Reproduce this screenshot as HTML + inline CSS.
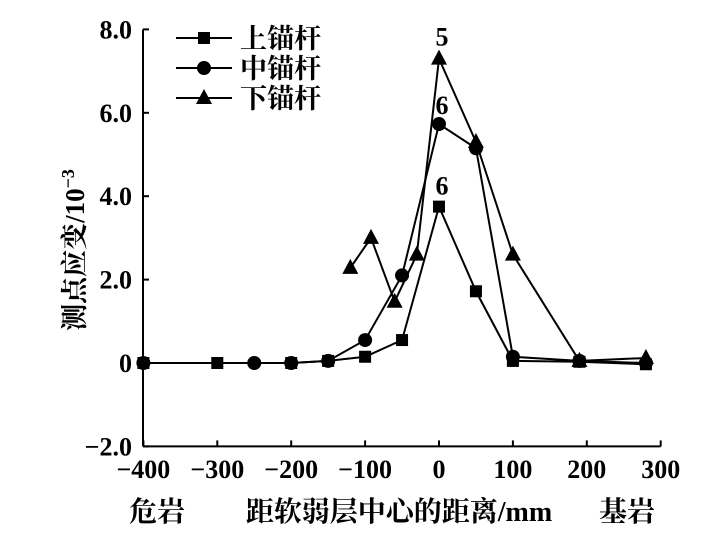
<!DOCTYPE html>
<html><head><meta charset="utf-8"><style>
body{margin:0;background:#fff;}
svg text{font-family:"Liberation Serif","Noto Serif CJK SC",serif;fill:#000;font-weight:bold;}
</style></head><body>
<svg id="chart" width="709" height="535">
<g id="axes"></g><g id="series"></g><g id="legend"></g>
</svg>
<script>
const xTicks=[-400,-300,-200,-100,0,100,200,300];
const yTicks=[-2,0,2,4,6,8];
const yTickLabels=["−2.0","0","2.0","4.0","6.0","8.0"];
const upperX=[-400,-300,-200,-150,-100,-50,0,50,100,190,280];
const upperY=[0,0,0,0.05,0.15,0.55,3.75,1.72,0.05,0.03,-0.03];
const midX=[-400,-250,-200,-150,-100,-50,0,50,100,190,280];
const midY=[0,0,0,0.05,0.55,2.1,5.73,5.15,0.15,0.05,0];
const lowX=[-120,-92,-60,-30,0,50,100,190,280];
const lowY=[2.28,3.0,1.47,2.6,7.3,5.3,2.6,0.05,0.12];
const NS="http://www.w3.org/2000/svg";
const sx=v=>439+v*0.739, sy=v=>363-v*41.7;
function mk(t,a,p){const e=document.createElementNS(NS,t);for(const k in a)e.setAttribute(k,a[k]);(p||document.getElementById('series')).appendChild(e);return e;}
const ax=document.getElementById('axes');
let e=mk('line',{x1:143,y1:sy(8),x2:143,y2:sy(-2),stroke:'#000','stroke-width':2},ax);

e=mk('line',{x1:143,y1:sy(-2),x2:sx(300),y2:sy(-2),stroke:'#000','stroke-width':2},ax);

xTicks.forEach(v=>{mk('line',{x1:sx(v),y1:sy(-2),x2:sx(v),y2:sy(-2)-6,stroke:'#000','stroke-width':2},ax);
const t=mk('text',{x:sx(v),y:478,'text-anchor':'middle','font-size':26},ax);t.textContent=v<0?'−'+(-v):v;
});
yTicks.forEach((v,i)=>{mk('line',{x1:143,y1:sy(v),x2:149,y2:sy(v),stroke:'#000','stroke-width':2},ax);
const t=mk('text',{x:132,y:sy(v)+9,'text-anchor':'end','font-size':26},ax);t.textContent=yTickLabels[i];
});
let t=mk('text',{transform:'translate(84,250) rotate(-90)','text-anchor':'middle','font-size':27},ax);
t.innerHTML='测点应变/10<tspan dy="-10" font-size="18">−3</tspan>';

t=mk('text',{x:399,y:521,'text-anchor':'middle','font-size':28},ax);t.textContent='距软弱层中心的距离/mm';

t=mk('text',{x:157,y:521,'text-anchor':'middle','font-size':28},ax);t.textContent='危岩';

t=mk('text',{x:627,y:521,'text-anchor':'middle','font-size':28},ax);t.textContent='基岩';

function marker(type,x,y,g){
 if(type==='sq')return mk('rect',{x:x-6,y:y-6,width:12,height:12,fill:'#000'},g);
 if(type==='ci')return mk('circle',{cx:x,cy:y,r:7,fill:'#000'},g);
 return mk('polygon',{points:`${x},${y-9} ${x-8},${y+6} ${x+8},${y+6}`,fill:'#000'},g);}
function series(xs,ys,type,name){
 const g=mk('g',{});
 const l=mk('polyline',{points:xs.map((x,i)=>sx(x)+','+sy(ys[i])).join(' '),fill:'none',stroke:'#000','stroke-width':2},g);
 
 xs.forEach((x,i)=>{const m=marker(type,sx(x),sy(ys[i]),g);});}
series(upperX,upperY,'sq','upper-bolt-series');
series(midX,midY,'ci','middle-bolt-series');
series(lowX,lowY,'tr','lower-bolt-series');
[['5',lowX[4],lowY[4],-13],['6',midX[6],midY[6],-10],['6',upperX[6],upperY[6],-12]].forEach(a=>{
 const t=mk('text',{x:sx(a[1])+3,y:sy(a[2])+a[3],'text-anchor':'middle','font-size':26});t.textContent=a[0];
 });
const lg=document.getElementById('legend');
[['sq','上锚杆',38],['ci','中锚杆',68],['tr','下锚杆',98]].forEach(a=>{
 const g=mk('g',{},lg);
 mk('line',{x1:176,y1:a[2],x2:232,y2:a[2],stroke:'#000','stroke-width':2},g);marker(a[0],204,a[2],g);
 const t=mk('text',{x:240,y:a[2]+10,'font-size':27,'font-weight':'normal'},g);t.textContent=a[1];});
</script>
</body></html>
